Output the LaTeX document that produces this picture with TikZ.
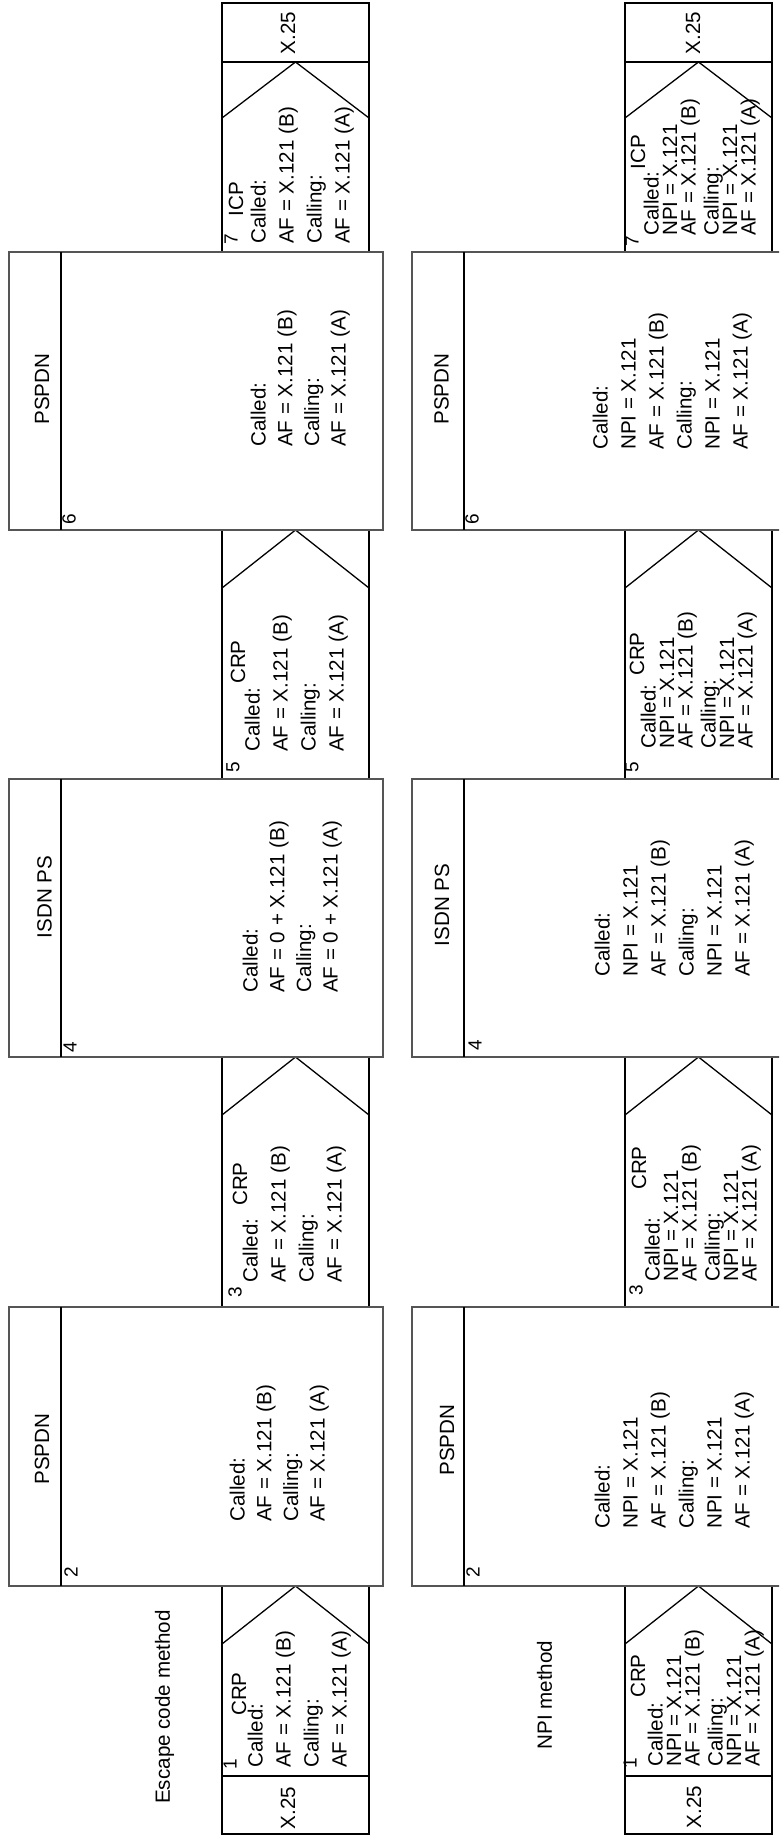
\documentclass[tikz,border=0pt]{standalone}
\usepackage{fontspec}
\setmainfont{Liberation Sans}
\usepackage{xcolor}
\definecolor{boxgray}{RGB}{85, 85, 85}
\newcommand{\addrfont}{\fontsize{20.6}{28}\selectfont}
\newcommand{\wideaddrfont}{\fontsize{20.6}{26.7}\selectfont}
\newcommand{\tightaddrfont}{\fontsize{20.6}{18.5}\selectfont}
\newcommand{\stepfont}{\fontsize{19}{22}\selectfont}
\lineskiplimit=-100pt

\begin{document}
\begin{tikzpicture}[x=1pt, y=-1pt,
    bigline/.style={draw=boxgray, line width=1.2pt},
    heavyline/.style={line width=2.2pt},
    chevline/.style={line width=1.3pt},
    boxtitle/.style={rotate=90, inner sep=0pt, font=\addrfont},
    stepnum/.style={rotate=90, inner sep=0pt, font=\stepfont},
    addrblock/.style={rotate=90, inner sep=0pt, anchor=north west, align=left, font=\addrfont},
    wideblock/.style={addrblock, font=\wideaddrfont},
    npiblock/.style={addrblock, font=\tightaddrfont}]

\clip (0,0) rectangle (779,1836);

% === Columna izquierda: Escape code method ===
% Caja 7 (ICP, arriba)
\draw[heavyline] (222,252) -- (222,3) -- (369,3) -- (369,252);
\draw[heavyline] (222,62) -- (369,62);
\draw[chevline] (222,118) -- (295.5,62) -- (369,118);

% Caja 5 (CRP)
\draw[heavyline] (222,530) -- (222,779);
\draw[heavyline] (369,530) -- (369,779);
\draw[chevline] (222,588) -- (295.5,530) -- (369,588);

% Caja 3 (CRP)
\draw[heavyline] (222,1057) -- (222,1307);
\draw[heavyline] (369,1057) -- (369,1307);
\draw[chevline] (222,1115) -- (295.5,1057) -- (369,1115);

% Caja 1 (CRP, abajo)
\draw[heavyline] (222,1586) -- (222,1834) -- (369,1834) -- (369,1586);
\draw[heavyline] (222,1776) -- (369,1776);
\draw[chevline] (222,1644) -- (295.5,1586) -- (369,1644);

% Redes: PSPDN 6, ISDN PS 4, PSPDN 2
\draw[bigline] (9,252) rectangle (383,530);
\draw[heavyline] (61,252) -- (61,530);
\draw[bigline] (9,779) rectangle (383,1057);
\draw[heavyline] (61,779) -- (61,1057);
\draw[bigline] (9,1307) rectangle (383,1586);
\draw[heavyline] (61,1307) -- (61,1586);

% Textos
\node[boxtitle] (escx25top) at (288,33) {X.25};
\node[stepnum] (escnum7) at (231,239) {7};
\node[boxtitle] (escicp7) at (236,199) {ICP};
\node[addrblock] (escaddr7) at (250.5,244)
    {Called:\\AF = X.121 (B)\\Calling:\\AF = X.121 (A)};

\node[boxtitle] (escnet6) at (42,389) {PSPDN};
\node[stepnum] (escnum6) at (69,519) {6};
\node[wideblock] (escaddr6) at (250.5,447)
    {Called:\\AF = X.121 (B)\\Calling:\\AF = X.121 (A)};

\node[stepnum] (escnum5) at (233,767) {5};
\node[boxtitle] (esccrp5) at (238,662) {CRP};
\node[addrblock] (escaddr5) at (244.5,752)
    {Called:\\AF = X.121 (B)\\Calling:\\AF = X.121 (A)};

\node[boxtitle] (escnet4) at (44.5,897) {ISDN PS};
\node[stepnum] (escnum4) at (70,1047) {4};
\node[wideblock] (escaddr4) at (242.5,993)
    {Called:\\AF = 0 + X.121 (B)\\Calling:\\AF = 0 + X.121 (A)};

\node[stepnum] (escnum3) at (235,1292) {3};
\node[boxtitle] (esccrp3) at (240,1184) {CRP};
\node[addrblock] (escaddr3) at (242.5,1283)
    {Called:\\AF = X.121 (B)\\Calling:\\AF = X.121 (A)};

\node[boxtitle] (escnet2) at (42,1449) {PSPDN};
\node[stepnum] (escnum2) at (71,1572) {2};
\node[wideblock] (escaddr2) at (229.5,1522)
    {Called:\\AF = X.121 (B)\\Calling:\\AF = X.121 (A)};

\node[stepnum] (escnum1) at (230,1764) {1};
\node[boxtitle] (esccrp1) at (239,1694) {CRP};
\node[addrblock] (escaddr1) at (247.5,1768)
    {Called:\\AF = X.121 (B)\\Calling:\\AF = X.121 (A)};
\node[boxtitle] (escx25bot) at (288,1808) {X.25};

\node[boxtitle] (escmethod) at (164.5,1707) {Escape code method};

% === Columna derecha: NPI method ===
% Caja 7 (ICP, arriba)
\draw[heavyline] (625,252) -- (625,3) -- (772,3) -- (772,252);
\draw[heavyline] (625,62) -- (772,62);
\draw[chevline] (625,118) -- (698.5,62) -- (772,118);

% Caja 5 (CRP)
\draw[heavyline] (625,530) -- (625,779);
\draw[heavyline] (772,530) -- (772,779);
\draw[chevline] (625,588) -- (698.5,530) -- (772,588);

% Caja 3 (CRP)
\draw[heavyline] (625,1057) -- (625,1307);
\draw[heavyline] (772,1057) -- (772,1307);
\draw[chevline] (625,1115) -- (698.5,1057) -- (772,1115);

% Caja 1 (CRP, abajo)
\draw[heavyline] (625,1586) -- (625,1834) -- (772,1834) -- (772,1586);
\draw[heavyline] (625,1776) -- (772,1776);
\draw[chevline] (625,1644) -- (698.5,1586) -- (772,1644);

% Redes (cortadas por el borde derecho)
\draw[bigline] (412,252) rectangle (786,530);
\draw[heavyline] (464,252) -- (464,530);
\draw[bigline] (412,779) rectangle (786,1057);
\draw[heavyline] (464,779) -- (464,1057);
\draw[bigline] (412,1307) rectangle (786,1586);
\draw[heavyline] (464,1307) -- (464,1586);

% Textos
\node[boxtitle] (npix25top) at (693,33) {X.25};
\node[stepnum] (npinum7) at (632,241) {7};
\node[boxtitle] (npiicp7) at (638,152) {ICP};
\node[npiblock] (npiaddr7) at (643.5,236)
    {Called:\\NPI = X.121\\AF = X.121 (B)\\[4.5pt]Calling:\\NPI = X.121\\AF = X.121 (A)};

\node[boxtitle] (npinet6) at (441.5,389) {PSPDN};
\node[stepnum] (npinum6) at (472,519) {6};
\node[addrblock] (npiaddr6) at (592.5,450)
    {Called:\\NPI = X.121\\AF = X.121 (B)\\Calling:\\NPI = X.121\\AF = X.121 (A)};

\node[stepnum] (npinum5) at (632,767) {5};
\node[boxtitle] (npicrp5) at (637,654) {CRP};
\node[npiblock] (npiaddr5) at (640.5,749)
    {Called:\\NPI = X.121\\AF = X.121 (B)\\[4.5pt]Calling:\\NPI = X.121\\AF = X.121 (A)};

\node[boxtitle] (npinet4) at (442,905) {ISDN PS};
\node[stepnum] (npinum4) at (475,1045) {4};
\node[addrblock] (npiaddr4) at (594.5,977)
    {Called:\\NPI = X.121\\AF = X.121 (B)\\Calling:\\NPI = X.121\\AF = X.121 (A)};

\node[stepnum] (npinum3) at (636,1290) {3};
\node[boxtitle] (npicrp3) at (639,1168) {CRP};
\node[npiblock] (npiaddr3) at (644.5,1282)
    {Called:\\NPI = X.121\\AF = X.121 (B)\\[4.5pt]Calling:\\NPI = X.121\\AF = X.121 (A)};

\node[boxtitle] (npinet2) at (447,1440) {PSPDN};
\node[stepnum] (npinum2) at (473,1572) {2};
\node[addrblock] (npiaddr2) at (594.5,1529)
    {Called:\\NPI = X.121\\AF = X.121 (B)\\Calling:\\NPI = X.121\\AF = X.121 (A)};

\node[stepnum] (npinum1) at (630,1763) {1};
\node[boxtitle] (npicrp1) at (638,1676) {CRP};
\node[npiblock] (npiaddr1) at (647.5,1767)
    {Called:\\NPI = X.121\\AF = X.121 (B)\\[4.5pt]Calling:\\NPI = X.121\\AF = X.121 (A)};
\node[boxtitle] (npix25bot) at (694,1807) {X.25};

\node[boxtitle] (npimethod) at (544.5,1695) {NPI method};

\end{tikzpicture}
\end{document}
